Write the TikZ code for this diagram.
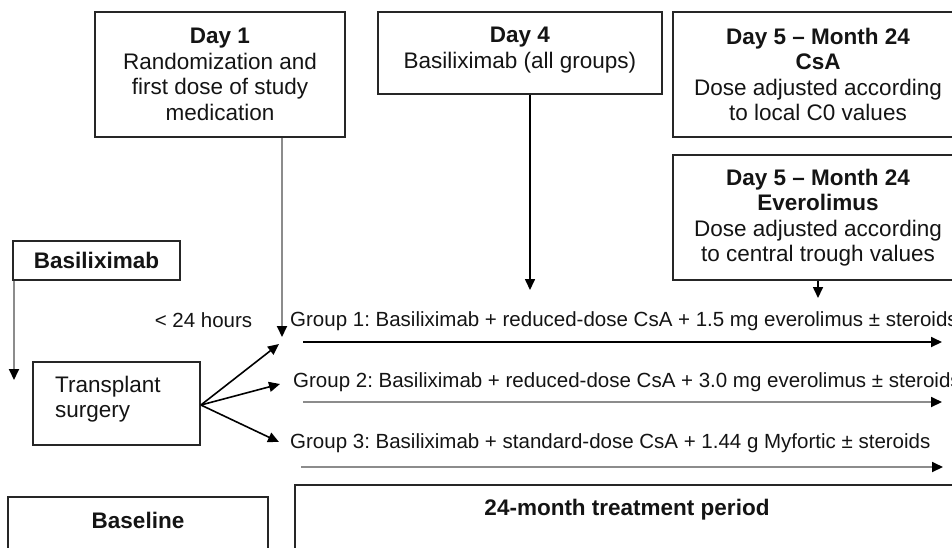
\documentclass[tikz,border=0pt]{standalone}
\usepackage{fontspec}
\setmainfont{Liberation Sans}
\usetikzlibrary{arrows.meta}
\frenchspacing
\definecolor{boxc}{HTML}{262626}
\definecolor{linegray}{HTML}{8C8C8C}
\definecolor{txt}{HTML}{141414}
\newcommand\bxfont{\fontsize{22.5}{25.5}\selectfont}
\newcommand\gpfont{\fontsize{20.5}{24}\selectfont}
\tikzset{
  box/.style={draw=boxc, line width=1.8pt, align=center, inner sep=0pt, font=\bxfont, text=txt},
  btext/.style={align=center, inner sep=0pt, font=\bxfont, text=txt},
  lbl/.style={inner sep=0pt, font=\gpfont, text=txt},
  btxt/.style={inner sep=0pt, font=\bxfont\bfseries, text=txt},
  barr/.style={draw=black, line width=1.6pt, -{Triangle[length=11pt,width=10pt,color=black]}},
  garr/.style={draw=linegray, line width=1.8pt, -{Triangle[length=11pt,width=10pt,color=black]}},
  bline/.style={draw=black, line width=1.8pt, -{Triangle[length=11pt,width=10pt,color=black]}}
}
\begin{document}
\begin{tikzpicture}[x=1pt,y=-1pt]
\useasboundingbox (0,0) rectangle (952,547);
\clip (0,0) rectangle (952,547);
% boxes
\node[box, minimum width=250pt, minimum height=125pt] (d1) at (220,74.5)
  {\textbf{Day 1}\\Randomization and\\first dose of study\\medication};
\node[box, minimum width=284pt, minimum height=82pt] (d4) at (520,53) {};
\node[btext] (d4t) at (520,50) {\textbf{Day 4}\\Basiliximab (all groups)};
\node[box, minimum width=290pt, minimum height=125pt] (csa) at (818,74.5)
  {\textbf{Day 5 -- Month 24}\\\textbf{CsA}\\Dose adjusted according\\to local C0 values};
\node[box, minimum width=290pt, minimum height=125pt] (ev) at (818,217.5)
  {\textbf{Day 5 -- Month 24}\\\textbf{Everolimus}\\Dose adjusted according\\to central trough values};
\node[box, minimum width=167pt, minimum height=39pt] (bas) at (96.5,260.5)
  {\textbf{Basiliximab}};
\node[box, minimum width=167pt, minimum height=83pt] (ts) at (116.5,403.5) {};
\node[btext, anchor=west, align=left] (tst) at (55,399) {Transplant\\surgery};
\node[box, minimum width=260pt, minimum height=80pt] (base) at (138,537) {};
\node[btxt] (baset) at (138,520) {Baseline};
\node[box, minimum width=665pt, minimum height=90pt] (treat) at (627.5,530) {};
\node[btxt] (treatt) at (627,510) {24-month treatment period};
% labels
\node[lbl] (hrs) at (203.5,320) {< 24 hours};
\node[lbl, anchor=west] (g1) at (290,321) {Group 1: Basiliximab + reduced-dose CsA + 1.5 mg everolimus ± steroids};
\node[lbl, anchor=west] (g2) at (293,382) {Group 2: Basiliximab + reduced-dose CsA + 3.0 mg everolimus ± steroids};
\node[lbl, anchor=west] (g3) at (290,443) {Group 3: Basiliximab + standard-dose CsA + 1.44 g Myfortic ± steroids};
% coordinates
\coordinate (bastip) at (14,380);
\coordinate (d1tip) at (282,337);
\coordinate (d4tip) at (530,290);
\coordinate (evtip) at (818,298);
\coordinate (f1) at (279,344);
\coordinate (f2) at (280,384);
\coordinate (f3) at (279,442);
\coordinate (g1s) at (303,342); \coordinate (g1e) at (942,342);
\coordinate (g2s) at (303,402); \coordinate (g2e) at (942,402);
\coordinate (g3s) at (301,467); \coordinate (g3e) at (943,467);
% connectors
\draw[garr] (bas.south -| bastip) -- (bastip);
\draw[garr] (d1.south -| d1tip) -- (d1tip);
\draw[barr] (d4.south -| d4tip) -- (d4tip);
\draw[barr] (ev.south -| evtip) -- (evtip);
\draw[barr] ([yshift=-1.5pt]ts.east) -- (f1);
\draw[barr] ([yshift=-1.5pt]ts.east) -- (f2);
\draw[barr] ([yshift=-1.5pt]ts.east) -- (f3);
\draw[bline] (g1s) -- (g1e);
\draw[garr] (g2s) -- (g2e);
\draw[garr] (g3s) -- (g3e);
\end{tikzpicture}
\end{document}
